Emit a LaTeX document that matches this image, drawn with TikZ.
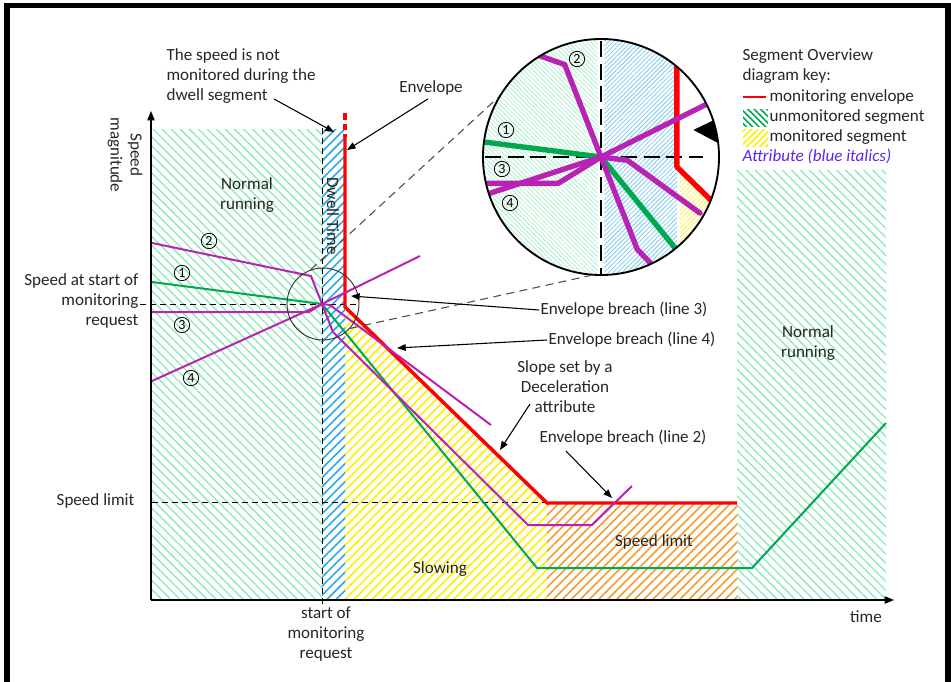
\documentclass[tikz,border=0pt]{standalone}
\usepackage{fontspec}
\setmainfont{Carlito}
\usetikzlibrary{positioning,arrows.meta,patterns.meta,calc}
\definecolor{envred}{RGB}{255,0,0}
\definecolor{linegreen}{RGB}{0,168,80}
\definecolor{linepurple}{RGB}{185,35,180}
\definecolor{hatchgreen}{RGB}{140,235,185}
\definecolor{hatchblue}{RGB}{40,170,230}
\definecolor{hatchyellow}{RGB}{255,238,0}
\definecolor{hatchorange}{RGB}{245,155,45}
\definecolor{attrblue}{RGB}{90,40,230}
\definecolor{keygreen}{RGB}{0,165,85}

\tikzset{
  lbl/.style={font=\fontsize{12.8}{15}\selectfont, text=black!85, inner sep=1pt, align=center},
  numcirc/.style={circle, draw, line width=0.6pt, inner sep=0pt, minimum size=11.5pt,
    font=\fontsize{10.5}{10}\selectfont},
  arr/.style={-{Triangle[length=6.5pt,width=5pt]}, line width=0.8pt},
  axis/.style={-{Triangle[length=7pt,width=5.5pt]}, line width=0.9pt},
  envelope/.style={envred, line width=2.6pt},
  pline/.style={linepurple, line width=1.5pt},
  gline/.style={linegreen, line width=1.5pt},
  guide/.style={dash pattern=on 4.5pt off 3pt, line width=0.7pt},
  zoomguide/.style={black!70, dash pattern=on 6pt off 4pt, line width=0.8pt},
  unmon/.style={pattern={Lines[angle=-45,distance=4.8pt,line width=1pt]}, pattern color=hatchgreen},
  dwellseg/.style={pattern={Lines[angle=45,distance=4.8pt,line width=1.2pt]}, pattern color=hatchblue},
  monit/.style={pattern={Lines[angle=45,distance=4.8pt,line width=1.2pt]}, pattern color=hatchyellow},
  limitseg/.style={pattern={Lines[angle=45,distance=4.8pt,line width=1.2pt]}, pattern color=hatchorange},
  % finer hatching inside the magnifier
  unmonfine/.style={pattern={Lines[angle=-45,distance=2.4pt,line width=0.6pt]}, pattern color=hatchgreen!70},
  dwellfine/.style={pattern={Lines[angle=45,distance=2.4pt,line width=0.6pt]}, pattern color=hatchblue!60},
  monitfine/.style={pattern={Lines[angle=45,distance=2.4pt,line width=0.6pt]}, pattern color=hatchyellow!70},
  keyunmon/.style={pattern={Lines[angle=-45,distance=3.4pt,line width=1.2pt]}, pattern color=keygreen},
  keymonit/.style={pattern={Lines[angle=45,distance=3.4pt,line width=1.2pt]}, pattern color=hatchyellow},
}

\begin{document}
\begin{tikzpicture}[x=0.75pt,y=-0.75pt]
  \useasboundingbox (0,0) rectangle (951,682);
  % frame
  \draw[line width=4.2pt] (7,700) -- (7,5.5) -- (948,5.5) -- (948,700);

  % segments
  \fill[unmon] (152,129) rectangle (322,600);
  \fill[dwellseg] (322,129) rectangle (345,600);
  \fill[monit] (345,307) -- (547,503) -- (547,600) -- (345,600) -- cycle;
  \fill[limitseg] (547,503) rectangle (737,600);
  \fill[unmon] (737,170) rectangle (886,600);

  % guide lines
  \draw[guide] (322,128) -- (322,605);
  \draw[guide] (140,304) -- (358,304);
  \draw[guide] (152,502) -- (547,502);

  % axes
  \coordinate (orig) at (151,600);
  \coordinate (ytop) at (151,111);
  \coordinate (xend) at (894,600);
  \draw[axis] (orig) -- (ytop);
  \draw[axis] (orig) -- (xend);

  % monitoring envelope
  \draw[envelope, dash pattern=on 5pt off 3pt] (345,113) -- (345,137);
  \draw[envelope] (345,137) -- (345,307) -- (547,503) -- (737,503);

  % speed lines
  \draw[gline] (152,282) -- (322,304) -- (537,568) -- (752,568) -- (886,423);
  \draw[pline] (152,243) -- (311,276) -- (322,304) -- (333,332) -- (528,525) -- (592,525) -- (632,486);
  \draw[pline] (152,312) -- (309,312) -- (322,304) -- (420,256);
  \draw[pline] (152,381) -- (322,304) -- (330,305) -- (491,425);

  % magnifier
  \node[circle, draw, black!80, line width=0.7pt, minimum size=54pt, inner sep=0pt] (zoomsrc) at (323,304) {};
  \begin{scope}
    \clip (601,157) circle [radius=118];
    \fill[white] (601,157) circle [radius=118];
    \begin{scope}[shift={(-461.6,-846.2)}, scale=3.3]
      \fill[unmonfine] (280,260) rectangle (321,350);
      \fill[dwellfine] (323,260) rectangle (345,350);
      \fill[monitfine] (346,309) -- (400,361) -- (346,361) -- cycle;
      \draw[line width=1.6pt, dash pattern=on 12pt off 5pt] (322,262) -- (322,350);
      \draw[line width=1.6pt, dash pattern=on 12pt off 5pt] (280,304) -- (353,304);
      \begin{scope}[line cap=round, line join=round]
        \draw[envred, line width=4pt] (345,271) -- (345,307) -- (390,351);
        \draw[linegreen, line width=4pt] (280,298.6) -- (322,304) -- (370,363);
        \draw[linepurple, line width=4pt] (280,265) -- (311,276) -- (322,304) -- (333,332) -- (360,360);
        \draw[linepurple, line width=4pt] (280,312) -- (309,312) -- (322,304) -- (380,275);
        \draw[linepurple, line width=4pt] (280,317.7) -- (322,304) -- (330,305) -- (352,321);
      \end{scope}
      \fill (350,295.8) -- (357.5,292.2) -- (357.5,299.8) -- cycle;
    \end{scope}
  \end{scope}
  \node[circle, draw, line width=1.4pt, minimum size=177pt, inner sep=0pt] (zoomdst) at (601,157) {};
  \draw[zoomguide] (zoomsrc.110) -- (zoomdst.150);
  \draw[zoomguide] (zoomsrc.-42) -- (zoomdst.265);

  % line numbers
  \node[numcirc] (n2) at (209,241) {2};
  \node[numcirc] (n1) at (182,273) {1};
  \node[numcirc] (n3) at (182,325) {3};
  \node[numcirc] (n4) at (191,378) {4};
  \node[numcirc] (m2) at (577,59) {2};
  \node[numcirc] (m1) at (506,130) {1};
  \node[numcirc] (m3) at (502,169) {3};
  \node[numcirc] (m4) at (510,203) {4};

  % labels
  \node[lbl, rotate=-90] (ylabel) at (125,155) {Speed\\magnitude};
  \node[lbl] (xlabel) at (866,617) {time};
  \node[lbl, align=left, anchor=west] (dwellnote) at (165,76)
    {The speed is not\\monitored during the\\dwell segment};
  \node[lbl] (envlbl) at (431,88) {Envelope};
  \node[lbl] (normal1) at (247,195) {Normal\\running};
  \node[lbl, rotate=-90] (dwelltime) at (333,216) {Dwell Time};
  \node[lbl, align=right, anchor=east] (startlbl) at (140,301) {Speed at start of\\monitoring\\request};
  \node[lbl, anchor=east] (limitlbl) at (136,501) {Speed limit};
  \node[lbl, anchor=west] (breach3) at (539,310) {Envelope breach (line 3)};
  \node[lbl, anchor=west] (breach4) at (547,340) {Envelope breach (line 4)};
  \node[lbl] (slopelbl) at (565,387) {Slope set by a\\Deceleration\\attribute};
  \node[lbl, anchor=west] (breach2) at (538,438) {Envelope breach (line 2)};
  \node[lbl] (limitseglbl) at (654,542) {Speed limit};
  \node[lbl] (slowlbl) at (440,569) {Slowing};
  \node[lbl] (normal2) at (808,343) {Normal\\running};
  \node[lbl] (startx) at (326,634) {start of\\monitoring\\request};

  % pointers
  \coordinate (dwellfrom) at (274,99);
  \coordinate (dwelltip) at (334,132);
  \coordinate (envtip) at (347,150);
  \coordinate (b3tip) at (351,296);
  \coordinate (b4tip) at (397,348);
  \coordinate (slopefrom) at (530,404);
  \coordinate (slopetip) at (500,450);
  \coordinate (b2from) at (566,451);
  \coordinate (b2tip) at (612,498);
  \draw[arr] (dwellfrom) -- (dwelltip);
  \draw[arr] (envlbl.south) ++(-3,2) -- (envtip);
  \draw[arr] (breach3.west) -- (b3tip);
  \draw[arr] (breach4.west) -- (b4tip);
  \draw[arr] (slopefrom) -- (slopetip);
  \draw[arr] (b2from) -- (b2tip);

  % key
  \node[lbl, align=left, anchor=west] (keytitle) at (741,66) {Segment Overview\\diagram key:};
  \draw[envred, line width=2pt] (743,97) -- (766,97);
  \node[lbl, anchor=west] (keytxt1) at (768,97) {monitoring envelope};
  \fill[keyunmon] (743,109) rectangle (768,126);
  \node[lbl, anchor=west] (keytxt2) at (768,117) {unmonitored segment};
  \fill[keymonit] (743,129) rectangle (768,146);
  \node[lbl, anchor=west] (keytxt3) at (768,137) {monitored segment};
  \node[lbl, anchor=west, text=attrblue, font=\fontsize{12.8}{15}\selectfont\itshape] (keytxt4) at (741,156)
    {Attribute (blue italics)};
\end{tikzpicture}
\end{document}
